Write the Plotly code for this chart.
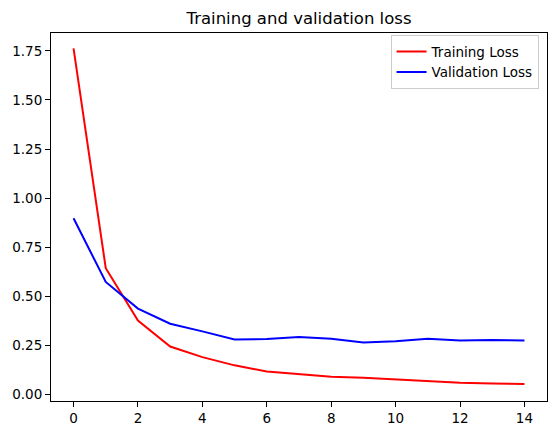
import plotly.graph_objects as go

epochs = list(range(15))
training_loss = [1.763, 0.643, 0.376, 0.244, 0.190, 0.148, 0.117, 0.104, 0.090,
                 0.085, 0.076, 0.068, 0.060, 0.056, 0.053]
validation_loss = [0.897, 0.573, 0.437, 0.360, 0.321, 0.280, 0.282, 0.293, 0.283,
                   0.265, 0.271, 0.283, 0.275, 0.277, 0.275]
x_ticks = [0, 2, 4, 6, 8, 10, 12, 14]
y_ticks = [0.0, 0.25, 0.5, 0.75, 1.0, 1.25, 1.5, 1.75]

fig = go.Figure()
fig.add_trace(go.Scatter(x=epochs, y=training_loss, mode="lines", name="Training Loss",
                         line=dict(color="red", width=2)))
fig.add_trace(go.Scatter(x=epochs, y=validation_loss, mode="lines", name="Validation Loss",
                         line=dict(color="blue", width=2)))

axis_common = dict(showgrid=False, zeroline=False, showline=True, linecolor="black",
                   linewidth=1, mirror=True, ticks="outside", ticklen=5, tickcolor="black",
                   tickwidth=1, automargin=False,
                   tickfont=dict(family="DejaVu Sans", size=13.5, color="black"))

fig.update_layout(
    template="none",
    width=556, height=435,
    margin=dict(l=51, r=9, t=33, b=34, pad=0, autoexpand=False),
    paper_bgcolor="white", plot_bgcolor="white",
    font=dict(family="DejaVu Sans", size=13.5, color="black"),
    title=dict(text="Training and validation loss", x=0.5, xref="paper",
               y=1 - 18 / 435, yref="container", yanchor="middle", xanchor="center",
               font=dict(family="DejaVu Sans", size=16.5, color="black")),
    xaxis=dict(range=[-0.70, 14.70], tickvals=x_ticks, ticktext=[str(v) for v in x_ticks],
               **axis_common),
    yaxis=dict(range=[-0.0336, 1.841], tickvals=y_ticks,
               ticktext=[f"{v:.2f}" for v in y_ticks], **axis_common),
    legend=dict(x=0.983, y=0.994, xanchor="right", yanchor="top",
                bordercolor="#cccccc", borderwidth=1, bgcolor="rgba(255,255,255,0.8)",
                font=dict(family="DejaVu Sans", size=13.5, color="black"),
                tracegroupgap=0, itemwidth=30),
    showlegend=True,
)

fig.write_html("out.html", config={"displayModeBar": False},
               post_script="document.body.style.margin='0';")
